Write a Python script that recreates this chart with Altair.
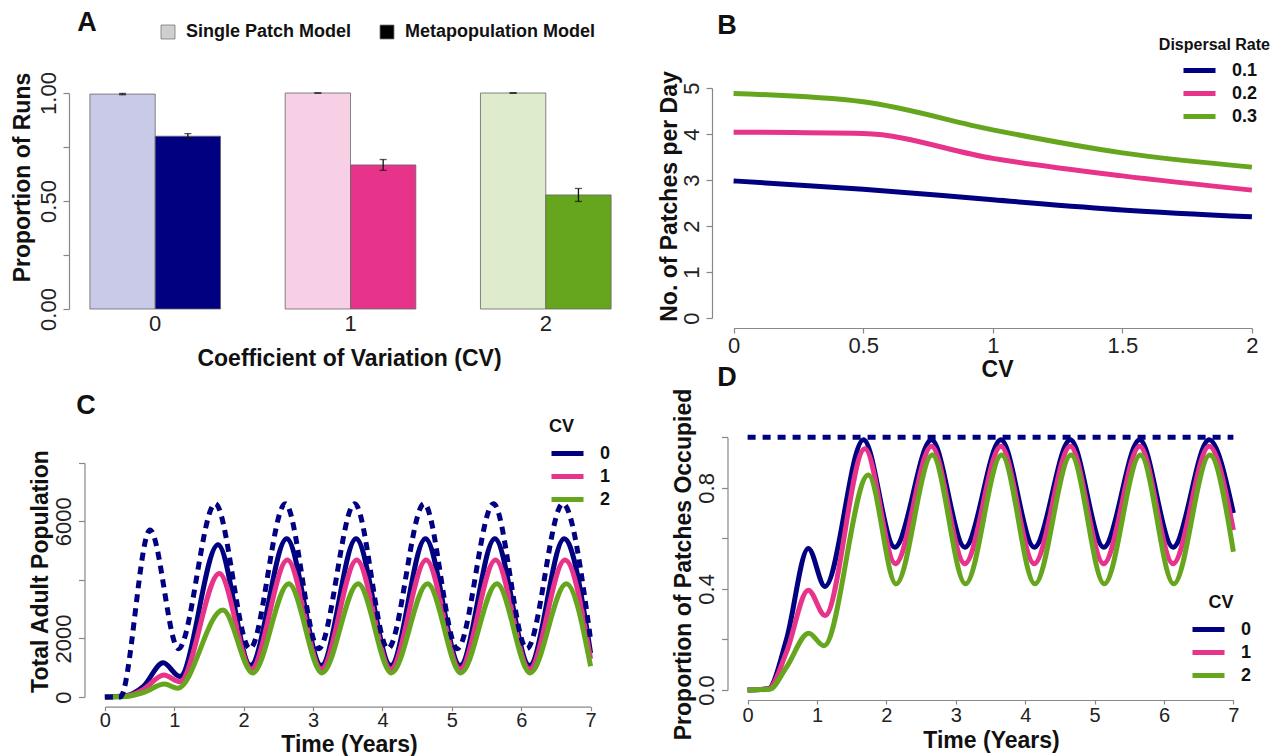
import altair as alt
import pandas as pd

FONT = "Liberation Sans"
NAVY = "#000080"
PINK = "#e7338a"
GREEN = "#66a61e"

# ---------------- Panel A data ----------------
cv_levels = ["0", "1", "2"]
models = ["Single Patch Model", "Metapopulation Model"]
single_patch = [0.995, 1.0, 1.0]
single_err = [0.003, 0.0, 0.0]
metapop = [0.80, 0.667, 0.528]
metapop_err = [0.012, 0.025, 0.03]
bar_fill = ["#c8cae8", "#f8d0e5", "#deebcd", NAVY, PINK, GREEN]

# ---------------- Panel B data ----------------
cv_b = [0, 0.5, 1, 1.5, 2]
rates = ["0.1", "0.2", "0.3"]
patches_01 = [2.98, 2.80, 2.57, 2.35, 2.20]
patches_02 = [4.04, 4.01, 3.47, 3.09, 2.78]
patches_03 = [4.88, 4.70, 4.09, 3.59, 3.28]

# ---------------- Panel C data (Total adult population) ----------------
c_t_single = [0, 0.22, 0.65, 1.06, 1.59, 2.09, 2.60, 3.08, 3.60, 4.08, 4.60, 5.08, 5.60, 6.08, 6.60, 7.0]
c_v_single = [0, 0, 5700, 1650, 6600, 1650, 6600, 1650, 6600, 1650, 6600, 1650, 6600, 1650, 6600, 1950]
c_t_cv0 = [0, 0.30, 0.55, 0.84, 1.08, 1.63, 2.10, 2.62, 3.12, 3.62, 4.12, 4.62, 5.12, 5.62, 6.12, 6.62, 7.0]
c_v_cv0 = [0, 40, 350, 1170, 700, 5200, 1080, 5400, 1080, 5400, 1080, 5400, 1080, 5400, 1080, 5400, 1500]
c_t_cv1 = [0, 0.30, 0.55, 0.85, 1.08, 1.65, 2.11, 2.63, 3.12, 3.63, 4.12, 4.63, 5.12, 5.63, 6.12, 6.63, 7.0]
c_v_cv1 = [0, 30, 250, 750, 520, 4220, 960, 4680, 960, 4680, 960, 4680, 960, 4680, 960, 4680, 1300]
c_t_cv2 = [0, 0.30, 0.55, 0.86, 1.05, 1.70, 2.13, 2.65, 3.13, 3.65, 4.13, 4.65, 5.13, 5.65, 6.13, 6.65, 7.0]
c_v_cv2 = [0, 20, 150, 440, 300, 2970, 820, 3870, 820, 3870, 820, 3870, 820, 3870, 820, 3870, 1050]

# ---------------- Panel D data (Proportion of patches occupied) ----------------
d_t_single = [0, 7]
d_v_single = [1.0, 1.0]
d_t_cv0 = [0, 0.30, 0.56, 0.875, 1.115, 1.67, 2.12, 2.65, 3.13, 3.65, 4.13, 4.65, 5.13, 5.65, 6.13, 6.65, 7.0]
d_v_cv0 = [0, 0.005, 0.20, 0.56, 0.41, 0.99, 0.565, 0.99, 0.565, 0.99, 0.565, 0.99, 0.565, 0.99, 0.565, 0.99, 0.70]
d_t_cv1 = [0, 0.30, 0.56, 0.875, 1.115, 1.69, 2.13, 2.65, 3.13, 3.65, 4.13, 4.65, 5.13, 5.65, 6.13, 6.65, 7.0]
d_v_cv1 = [0, 0.004, 0.15, 0.395, 0.295, 0.955, 0.50, 0.965, 0.50, 0.965, 0.50, 0.965, 0.50, 0.965, 0.50, 0.965, 0.633]
d_t_cv2 = [0, 0.32, 0.56, 0.88, 1.10, 1.74, 2.14, 2.66, 3.14, 3.66, 4.14, 4.66, 5.14, 5.66, 6.14, 6.66, 7.0]
d_v_cv2 = [0, 0.003, 0.09, 0.225, 0.175, 0.851, 0.42, 0.93, 0.42, 0.93, 0.42, 0.93, 0.42, 0.93, 0.42, 0.93, 0.547]

cv_series = ["0", "1", "2"]

# ---------------- helpers ----------------
def y_axis(offset, values, label_expr, title, tx, ty):
    return alt.Axis(orient="left", offset=offset, values=values, labelExpr=label_expr,
                    labelAngle=270, labelAlign="center", labelBaseline="alphabetic",
                    labelPadding=8, tickSize=6, title=title, titleX=tx, titleY=ty,
                    titleAngle=270, titleAlign="center", titleBaseline="middle")


def line_legend(x, y, title, anchor="start"):
    kw = dict(orient="none", legendX=x, legendY=y,
              symbolType="M-1.6,0L1.6,0", symbolSize=400, symbolStrokeWidth=5,
              symbolOffset=6, labelOffset=20, labelFont=FONT, labelFontSize=18,
              labelFontWeight="bold", labelColor="#111", rowPadding=0, padding=0)
    if title is None:
        return alt.Legend(title=None, **kw)
    return alt.Legend(title=title, titleFont=FONT, titleFontSize=18, titleFontWeight="bold",
                      titleColor="#111", titleAnchor=anchor, titlePadding=5, **kw)


def letter(txt, x, y):
    return alt.Chart(pd.DataFrame({"t": [txt]})).mark_text(
        font=FONT, fontSize=27, fontWeight="bold", color="#111", align="center", baseline="middle"
    ).encode(text="t:N", x=alt.value(x), y=alt.value(y))


# ---------------- Panel A ----------------
dfA = pd.DataFrame({
    "cv": cv_levels * 2,
    "model": [models[0]] * 3 + [models[1]] * 3,
    "value": single_patch + metapop,
    "err": single_err + metapop_err,
})
dfA["key"] = dfA["model"] + " " + dfA["cv"]
dfA["lo"] = dfA["value"] - dfA["err"]
dfA["hi"] = dfA["value"] + dfA["err"]
keysA = list(dfA["key"])

xA = alt.X("cv:N", scale=alt.Scale(range=[69, 632], paddingInner=0.331, paddingOuter=0.107),
           axis=alt.Axis(orient="bottom", offset=-447, domain=False, ticks=False, labelAngle=0,
                         labelPadding=4, title="Coefficient of Variation (CV)", titleX=349, titleY=49,
                         titleAlign="center", titleBaseline="middle"))
xoA = alt.XOffset("model:N", sort=models, scale=alt.Scale(paddingInner=0, paddingOuter=0))
yA = alt.Y("value:Q", scale=alt.Scale(domain=[0, 1], range=[309, 93], nice=False),
           axis=y_axis(-69, [0, 0.25, 0.5, 0.75, 1],
                       "datum.value == 0.25 || datum.value == 0.75 ? '' : format(datum.value, '.2f')",
                       "Proportion of Runs", -47, 177))

barsA = alt.Chart(dfA).mark_bar(stroke="#666", strokeWidth=0.8).encode(
    x=xA, xOffset=xoA, y=yA,
    fill=alt.Fill("key:N", scale=alt.Scale(domain=keysA, range=bar_fill), legend=None),
)
errA = alt.Chart(dfA).mark_rule(color="#111", strokeWidth=1.3).encode(
    x=xA, xOffset=xoA, y="lo:Q", y2="hi:Q")
capLoA = alt.Chart(dfA).mark_tick(color="#111", thickness=1.3, size=7).encode(
    x=xA, xOffset=xoA, y="lo:Q")
capHiA = alt.Chart(dfA).mark_tick(color="#111", thickness=1.3, size=7).encode(
    x=xA, xOffset=xoA, y="hi:Q")
legA = alt.Chart(pd.DataFrame({"model": models})).mark_square(opacity=0, size=0).encode(
    x=alt.value(0), y=alt.value(0),
    color=alt.Color("model:N", scale=alt.Scale(domain=models, range=["#cfcfcf", "#000000"]),
                    legend=alt.Legend(orient="none", legendX=159, legendY=23, direction="horizontal",
                                      title=None, symbolType="square", symbolSize=196,
                                      symbolOpacity=1, symbolStrokeColor="#777",
                                      symbolStrokeWidth=0.8, labelFont=FONT, labelFontSize=18,
                                      labelFontWeight="bold", labelColor="#111", labelOffset=9,
                                      labelLimit=400, columnPadding=26, symbolOffset=0, padding=0)),
)
panelA = alt.layer(barsA, errA, capLoA, capHiA, legA)

# ---------------- Panel B ----------------
dfB = pd.DataFrame({
    "cv": cv_b * 3,
    "value": patches_01 + patches_02 + patches_03,
    "rate": [rates[0]] * 5 + [rates[1]] * 5 + [rates[2]] * 5,
})
linesB = alt.Chart(dfB).mark_line(strokeWidth=5, interpolate="monotone").encode(
    x=alt.X("cv:Q", scale=alt.Scale(domain=[0, 2], range=[733.6, 1251.9], nice=False, zero=False),
            axis=alt.Axis(orient="bottom", offset=-428, values=cv_b, format="~g", tickSize=5,
                          labelPadding=2, labelAngle=0, title="CV", titleX=997, titleY=41,
                          titleAlign="center", titleBaseline="middle")),
    y=alt.Y("value:Q", scale=alt.Scale(domain=[0, 5], range=[318, 88], nice=False),
            axis=y_axis(-712, [0, 1, 2, 3, 4, 5], "format(datum.value, 'd')",
                        "No. of Patches per Day", -43, 196)),
    color=alt.Color("rate:N", scale=alt.Scale(domain=rates, range=[NAVY, PINK, GREEN]),
                    legend=line_legend(1181, 58, None)),
    detail="rate:N",
)
titleB = alt.Chart(pd.DataFrame({"t": ["Dispersal Rate"]})).mark_text(
    font=FONT, fontSize=16, fontWeight="bold", color="#111", align="right", baseline="middle"
).encode(text="t:N", x=alt.value(1270), y=alt.value(45))
panelB = alt.layer(linesB)


# ---------------- Panels C and D ----------------
def series_df(ts, vs, names):
    rows = []
    for t, v, n in zip(ts, vs, names):
        for a, b in zip(t, v):
            rows.append({"t": a, "v": b, "cv": n})
    return pd.DataFrame(rows)


dfC = series_df([c_t_cv0, c_t_cv1, c_t_cv2], [c_v_cv0, c_v_cv1, c_v_cv2], cv_series)
dfCs = pd.DataFrame({"t": c_t_single, "v": c_v_single})
dfD = series_df([d_t_cv0, d_t_cv1, d_t_cv2], [d_v_cv0, d_v_cv1, d_v_cv2], cv_series)
dfDs = pd.DataFrame({"t": d_t_single, "v": d_v_single})

xC = alt.X("t:Q", scale=alt.Scale(domain=[0, 7], range=[104.9, 590.6], nice=False, zero=False),
           axis=alt.Axis(orient="bottom", offset=-49.3, values=list(range(8)), format="d", tickSize=4,
                         labelPadding=0, labelAngle=0, labelFontSize=20, title="Time (Years)",
                         titleX=349, titleY=37.5, titleAlign="center", titleBaseline="middle"))
yC = alt.Y("v:Q", scale=alt.Scale(domain=[0, 8000], range=[697, 462.7], nice=False),
           axis=y_axis(-84.5, [0, 2000, 4000, 6000, 8000],
                       "datum.value == 4000 || datum.value == 8000 ? '' : format(datum.value, 'd')",
                       "Total Adult Population", -44.5, 571))
linesC = alt.Chart(dfC).mark_line(strokeWidth=5, interpolate="monotone").encode(
    x=xC, y=yC,
    color=alt.Color("cv:N", scale=alt.Scale(domain=cv_series, range=[NAVY, PINK, GREEN]),
                    legend=line_legend(549, 418, "CV", "start")),
    detail="cv:N",
)
dashC = alt.Chart(dfCs).mark_line(strokeWidth=5, interpolate="monotone", color=NAVY,
                                  strokeDash=[8, 6]).encode(x=xC, y=yC)
panelC = alt.layer(linesC, dashC)

xD = alt.X("t:Q", scale=alt.Scale(domain=[0, 7], range=[747.6, 1233.4], nice=False, zero=False),
           axis=alt.Axis(orient="bottom", offset=-56, values=list(range(8)), format="d", tickSize=4,
                         labelPadding=1, labelAngle=0, labelFontSize=20, title="Time (Years)",
                         titleX=991, titleY=40, titleAlign="center", titleBaseline="middle"))
yD = alt.Y("v:Q", scale=alt.Scale(domain=[0, 1], range=[690, 437.3], nice=False),
           axis=y_axis(-727.5, [0, 0.2, 0.4, 0.6, 0.8, 1.0],
                       "datum.value == 0 || abs(datum.value - 0.4) < 0.01 || abs(datum.value - 0.8) < 0.01 ? format(datum.value, '.1f') : ''",
                       "Proportion of Patches Occupied", -44.5, 564))
linesD = alt.Chart(dfD).mark_line(strokeWidth=5, interpolate="monotone").encode(
    x=xD, y=yD,
    color=alt.Color("cv:N", scale=alt.Scale(domain=cv_series, range=[NAVY, PINK, GREEN]),
                    legend=line_legend(1190, 594, "CV", "middle")),
    detail="cv:N",
)
dashD = alt.Chart(dfDs).mark_line(strokeWidth=5, color=NAVY, strokeDash=[8, 7]).encode(x=xD, y=yD)
panelD = alt.layer(linesD, dashD)

chart = alt.layer(
    panelA, panelB, panelC, panelD, titleB,
    letter("A", 87, 23), letter("B", 727, 26), letter("C", 86, 406), letter("D", 727, 378),
).resolve_scale(
    x="independent", y="independent", color="independent", fill="independent"
).resolve_axis(
    x="independent", y="independent"
).resolve_legend(
    color="independent"
).properties(
    width=1284, height=756, padding=0, autosize=alt.AutoSizeParams(type="none")
).configure_view(
    strokeWidth=0
).configure_axis(
    labelFont=FONT, labelFontSize=22, labelColor="#222", titleFont=FONT, titleFontSize=23,
    titleFontWeight="bold", titleColor="#111", domainColor="#888", tickColor="#888",
    domainWidth=1.2, tickWidth=1.2, grid=False, labelFlush=False, labelOverlap=False
)

chart.save("out.html", embed_options={"renderer": "svg", "actions": False})
